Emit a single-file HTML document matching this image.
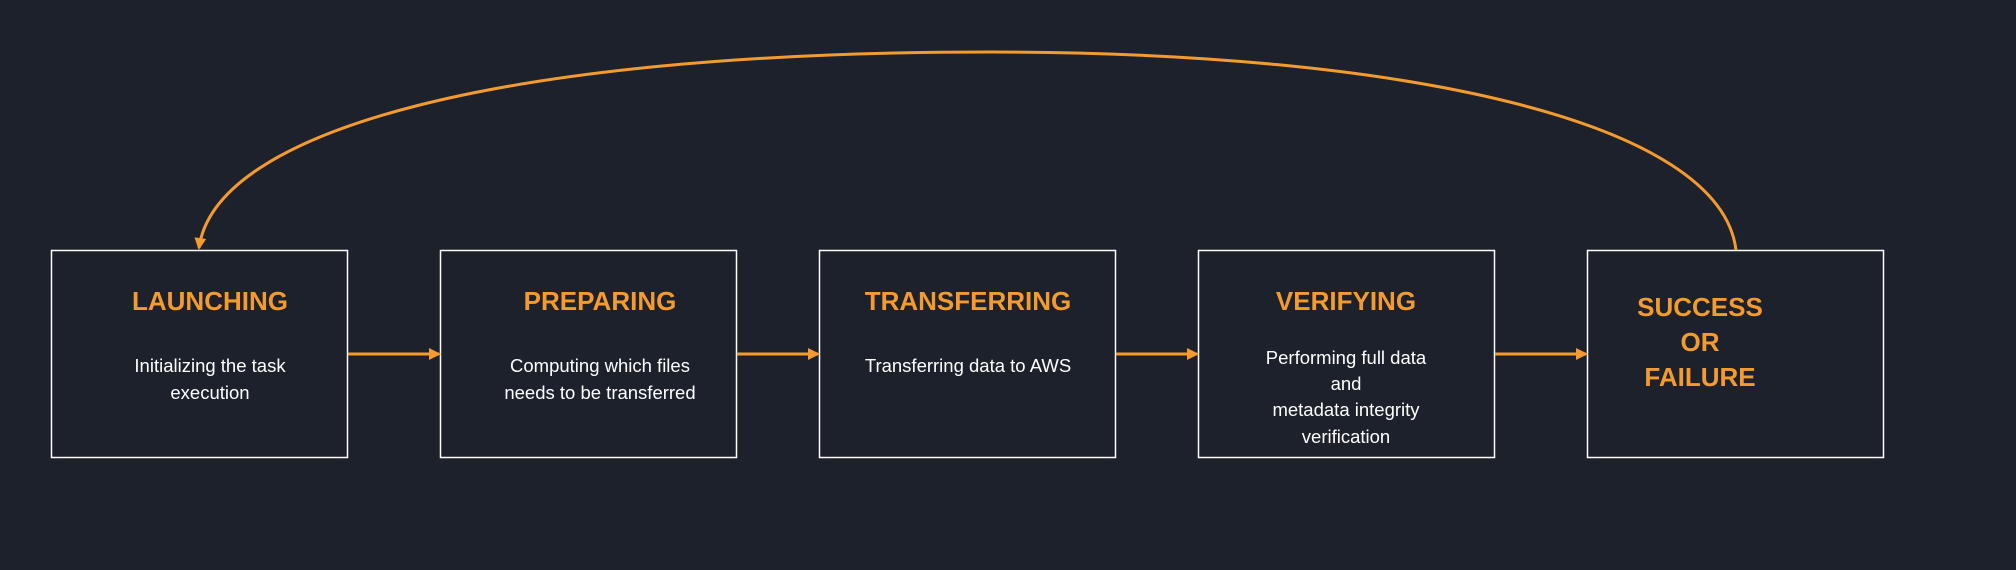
<!DOCTYPE html>
<html><head><style>
body{margin:0;background:#1d212c;}
svg{display:block}
.t{font-family:"Liberation Sans",sans-serif;font-weight:bold;font-size:26px;fill:#f49b2f;text-anchor:middle}
.b{font-family:"Liberation Sans",sans-serif;font-size:18.5px;fill:#fff;text-anchor:middle}
</style></head><body>
<svg width="2016" height="570" viewBox="0 0 2016 570">
<rect width="2016" height="570" fill="#1d212c"/>
<defs><marker id="a" markerWidth="12" markerHeight="12" refX="10" refY="6" orient="auto" markerUnits="userSpaceOnUse"><path d="M0,0 L12,6 L0,12 z" fill="#f49b2f"/></marker></defs>
<g fill="none" stroke="#fff" stroke-width="1.5">
<rect x="51.5" y="250.5" width="296" height="207"/>
<rect x="440.5" y="250.5" width="296" height="207"/>
<rect x="819.5" y="250.5" width="296" height="207"/>
<rect x="1198.5" y="250.5" width="296" height="207"/>
<rect x="1587.5" y="250.5" width="296" height="207"/>
</g>
<g stroke="#f49b2f" stroke-width="3" fill="none">
<line x1="348" y1="354" x2="439" y2="354" marker-end="url(#a)"/>
<line x1="737" y1="354" x2="818" y2="354" marker-end="url(#a)"/>
<line x1="1116" y1="354" x2="1197" y2="354" marker-end="url(#a)"/>
<line x1="1495" y1="354" x2="1586" y2="354" marker-end="url(#a)"/>
<path d="M1736 250 C1720 120 1400 52 990 52 C500 52 215 130 199 248" marker-end="url(#a)"/>
</g>
<text class="t" x="210" y="310">LAUNCHING</text>
<text class="b" x="210" y="372">Initializing the task</text>
<text class="b" x="210" y="399">execution</text>
<text class="t" x="600" y="310">PREPARING</text>
<text class="b" x="600" y="372">Computing which files</text>
<text class="b" x="600" y="399">needs to be transferred</text>
<text class="t" x="968" y="310">TRANSFERRING</text>
<text class="b" x="968" y="372">Transferring data to AWS</text>
<text class="t" x="1346" y="310">VERIFYING</text>
<text class="b" x="1346" y="364">Performing full data</text>
<text class="b" x="1346" y="390">and</text>
<text class="b" x="1346" y="416">metadata integrity</text>
<text class="b" x="1346" y="443">verification</text>
<text class="t" x="1700" y="316">SUCCESS</text>
<text class="t" x="1700" y="351">OR</text>
<text class="t" x="1700" y="386">FAILURE</text>
</svg>
</body></html>
